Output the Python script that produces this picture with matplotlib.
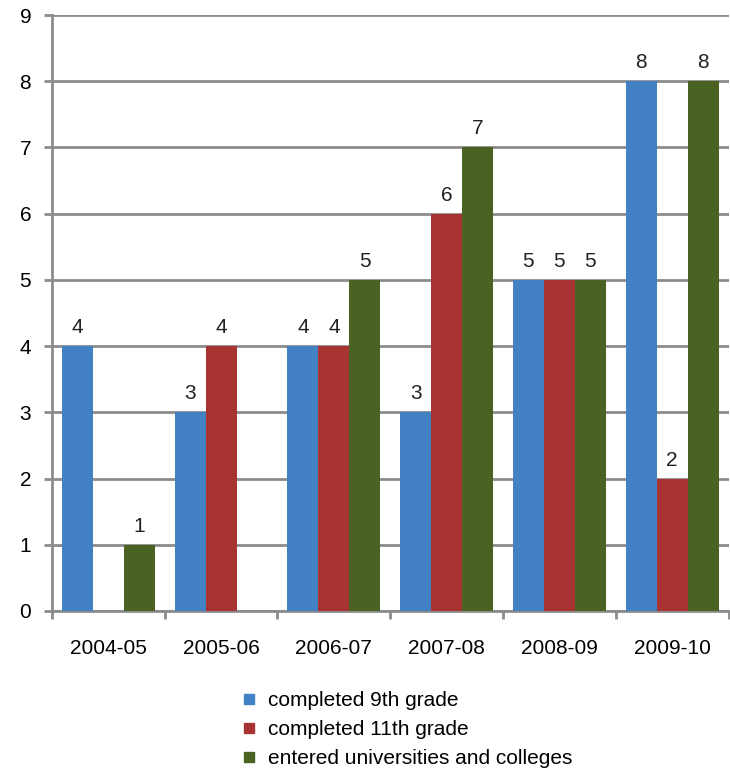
import matplotlib.pyplot as plt
from matplotlib.lines import Line2D
import numpy as np

years = ["2004-05", "2005-06", "2006-07", "2007-08", "2008-09", "2009-10"]
grade9 = [4, 3, 4, 3, 5, 8]
grade11 = [0, 4, 4, 6, 5, 2]
entered = [1, 0, 5, 7, 5, 8]
series_names = ["completed 9th grade", "completed 11th grade",
                "entered universities and colleges"]
colors = ["#4281c3", "#a83333", "#4b6322"]

plt.rcParams['font.family'] = ['Liberation Sans', 'DejaVu Sans']
GRID = "#8c8c8c"
FS = 15

fig = plt.figure(figsize=(7.3, 7.7), dpi=100)
ax = fig.add_axes([0.0712, 0.2065, 0.9268, 0.774])

x = np.arange(len(years)) + 0.5
w = 0.275
for i, (vals, col) in enumerate(zip([grade9, grade11, entered], colors)):
	bars = ax.bar(x + (i - 1) * w, vals, w, color=col, zorder=3)
	labels = [str(v) if v else "" for v in vals]
	ax.bar_label(bars, labels=labels, padding=6.5, fontsize=FS, color="#222222")

ax.set_xlim(0, len(years))
ax.set_ylim(0, 9)
ax.set_yticks(range(10))
ax.grid(axis='y', color=GRID, linewidth=2, zorder=0)
ax.set_axisbelow(True)

# boundary ticks without labels, labels at category centres
ax.set_xticks(np.arange(len(years) + 1))
ax.set_xticklabels([])
ax.set_xticks(x, minor=True)
ax.set_xticklabels(years, minor=True)
ax.tick_params(axis='x', which='minor', length=0, pad=20.5, labelsize=FS)
ax.tick_params(axis='x', which='major', length=6, width=2, color=GRID)
ax.tick_params(axis='y', length=6, width=2, color=GRID, pad=9, labelsize=FS)

for s in ['top', 'right']:
	ax.spines[s].set_visible(False)
for s in ['left', 'bottom']:
	ax.spines[s].set_color(GRID)
	ax.spines[s].set_linewidth(2)

handles = [Line2D([], [], marker='s', linestyle='', color=c, markersize=6.5) for c in colors]
fig.legend(handles, series_names, loc='upper left', bbox_to_anchor=(0.3332, 0.1026),
           frameon=False, fontsize=FS, handletextpad=0.59, labelspacing=0.48,
           borderpad=0, borderaxespad=0, handlelength=0.6)

fig.savefig("out.png", dpi=100)
